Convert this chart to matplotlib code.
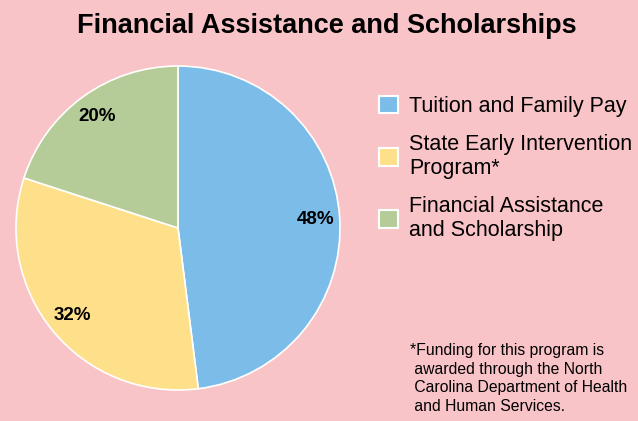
import matplotlib.pyplot as plt

plt.rcParams['font.family'] = ['Liberation Sans', 'DejaVu Sans']

# data
labels = ["Tuition and Family Pay", "State Early Intervention\nProgram*",
          "Financial Assistance\nand Scholarship"]
shares = [48, 32, 20]
colors = ["#7BBDE8", "#FFE08A", "#B5CC98"]
bg = "#F9C4C8"

W, H = 638, 421
fig = plt.figure(figsize=(W / 100, H / 100), dpi=100, facecolor=bg)

# pie axes placed by pixel center/radius
cx, cy, r = 178, 228, 162
ax = fig.add_axes([(cx - r) / W, (H - cy - r) / H, 2 * r / W, 2 * r / H])
ax.set_facecolor(bg)
wedges, texts, autotexts = ax.pie(
    shares, colors=colors, startangle=90, counterclock=False,
    autopct="%d%%", pctdistance=0.85,
    wedgeprops=dict(edgecolor="white", linewidth=1.2),
    textprops=dict(fontsize=13.5, fontweight="bold", color="black"))
ax.set_xlim(-1, 1)
ax.set_ylim(-1, 1)
ax.set_aspect("equal")

fig.text(327 / W, 1 - 26 / H, "Financial Assistance and Scholarships",
         ha="center", va="center", fontsize=19.5, fontweight="bold")

leg = fig.legend(wedges, labels, loc="upper left",
                 bbox_to_anchor=(370 / W, 1 - 87 / H),
                 frameon=False, fontsize=15.5, handlelength=0.88,
                 handleheight=0.88, handletextpad=0.55, labelspacing=0.8,
                 borderaxespad=0)
for t in leg.get_texts():
    t.set_linespacing(1.18)
for h in leg.legend_handles:
    h.set_edgecolor("white")
    h.set_linewidth(1.5)

fig.text(410 / W, 1 - 343 / H,
         "*Funding for this program is\n awarded through the North\n"
         " Carolina Department of Health\n and Human Services.",
         ha="left", va="top", fontsize=11.3, linespacing=1.3)

fig.savefig("out.png", dpi=100, facecolor=bg)
